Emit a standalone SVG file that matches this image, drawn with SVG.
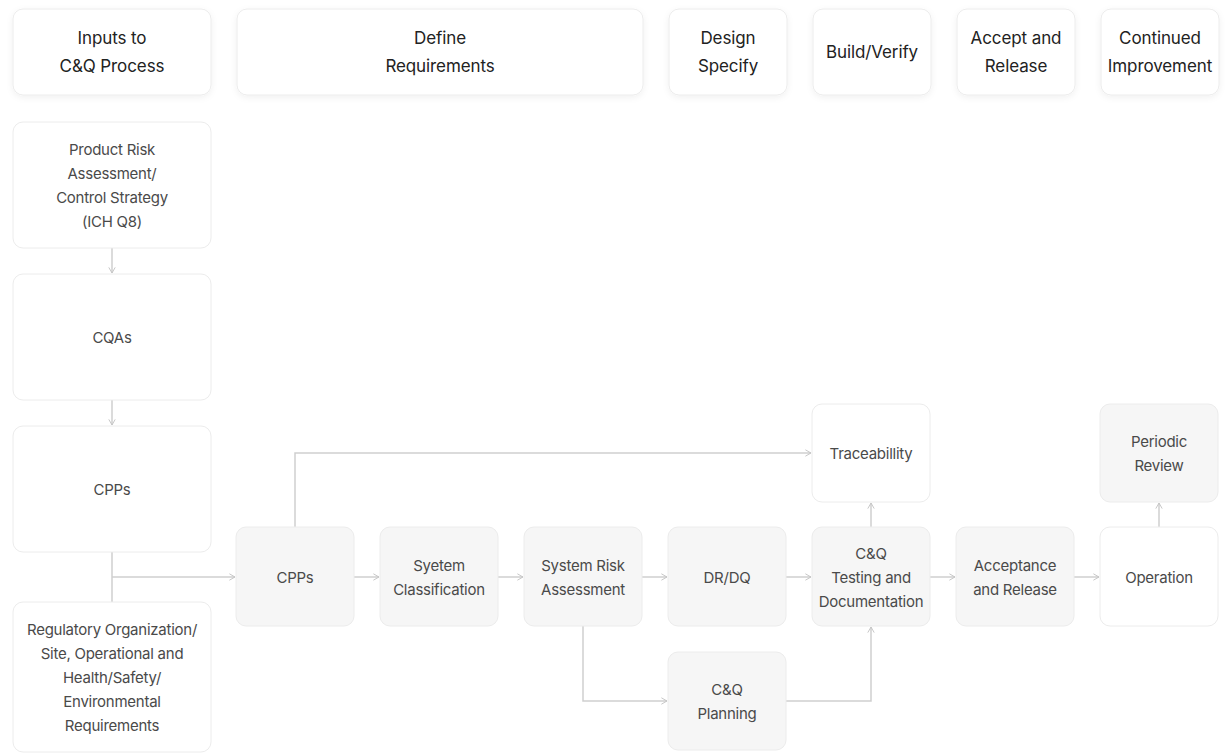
<svg xmlns="http://www.w3.org/2000/svg" width="1232" height="753" viewBox="0 0 1232 753">
<defs>
<filter id="sh" x="-20%" y="-20%" width="140%" height="150%">
<feDropShadow dx="0" dy="2" stdDeviation="3" flood-color="#000" flood-opacity="0.06"/>
</filter>
<marker id="ar" viewBox="0 0 10 10" refX="9" refY="5" markerWidth="8" markerHeight="8" markerUnits="userSpaceOnUse" orient="auto">
<path d="M2,1 L9,5 L2,9" fill="none" stroke="#c4c4c4" stroke-width="1.2"/>
</marker>
<style>
.hd rect{fill:#fff;stroke:#ececec;stroke-width:1;filter:url(#sh)}
.hd text{font-family:Inter,"Liberation Sans",sans-serif;font-size:17px;fill:#222;text-anchor:middle;dominant-baseline:central;letter-spacing:-0.1px}
.w rect{fill:#fff;stroke:#ececec;stroke-width:1}
.g rect{fill:#f6f6f6;stroke:#ececec;stroke-width:1}
.n text{font-family:Inter,"Liberation Sans",sans-serif;font-size:15px;fill:#4a4a4a;text-anchor:middle;dominant-baseline:central;letter-spacing:-0.25px}
#edges path{fill:none;stroke:#cfcfcf;stroke-width:1.5}
</style>
</defs>
<rect width="1232" height="753" fill="#fff"/>

<g id="h1" class="hd"><rect x="13" y="9" width="198" height="86" rx="10"/><text x="112" y="38">Inputs to</text><text x="112" y="66">C&amp;Q Process</text></g>
<g id="h2" class="hd"><rect x="237" y="9" width="406" height="86" rx="10"/><text x="440" y="38">Define</text><text x="440" y="66">Requirements</text></g>
<g id="h3" class="hd"><rect x="669" y="9" width="118" height="86" rx="10"/><text x="728" y="38">Design</text><text x="728" y="66">Specify</text></g>
<g id="h4" class="hd"><rect x="813" y="9" width="118" height="86" rx="10"/><text x="872" y="52">Build/Verify</text></g>
<g id="h5" class="hd"><rect x="957" y="9" width="118" height="86" rx="10"/><text x="1016" y="38">Accept and</text><text x="1016" y="66">Release</text></g>
<g id="h6" class="hd"><rect x="1101" y="9" width="118" height="86" rx="10"/><text x="1160" y="38">Continued</text><text x="1160" y="66">Improvement</text></g>

<g id="edges">
<path d="M112,248 V273" marker-end="url(#ar)"/>
<path d="M112,400 V425" marker-end="url(#ar)"/>
<path d="M112,552 V602"/>
<path d="M112,577 H235" marker-end="url(#ar)"/>
<path d="M354,577 H379" marker-end="url(#ar)"/>
<path d="M498,577 H523" marker-end="url(#ar)"/>
<path d="M642,577 H667" marker-end="url(#ar)"/>
<path d="M786,577 H811" marker-end="url(#ar)"/>
<path d="M930,577 H955" marker-end="url(#ar)"/>
<path d="M1074,577 H1099" marker-end="url(#ar)"/>
<path d="M295,527 V453 H811" marker-end="url(#ar)"/>
<path d="M583,626 V701 H667" marker-end="url(#ar)"/>
<path d="M786,701 H871 V627" marker-end="url(#ar)"/>
<path d="M871,527 V503" marker-end="url(#ar)"/>
<path d="M1159,527 V503" marker-end="url(#ar)"/>
</g>

<g id="n1" class="n w"><rect x="13" y="122" width="198" height="126" rx="10"/><text x="112" y="149">Product Risk</text><text x="112" y="173">Assessment/</text><text x="112" y="197">Control Strategy</text><text x="112" y="221">(ICH Q8)</text></g>
<g id="n2" class="n w"><rect x="13" y="274" width="198" height="126" rx="10"/><text x="112" y="337">CQAs</text></g>
<g id="n3" class="n w"><rect x="13" y="426" width="198" height="126" rx="10"/><text x="112" y="489">CPPs</text></g>
<g id="n4" class="n w"><rect x="13" y="602" width="198" height="150" rx="10"/><text x="112" y="629">Regulatory Organization/</text><text x="112" y="653">Site, Operational and</text><text x="112" y="677">Health/Safety/</text><text x="112" y="701">Environmental</text><text x="112" y="725">Requirements</text></g>

<g id="n5" class="n g"><rect x="236" y="527" width="118" height="99" rx="10"/><text x="295" y="577">CPPs</text></g>
<g id="n6" class="n g"><rect x="380" y="527" width="118" height="99" rx="10"/><text x="439" y="565">Syetem</text><text x="439" y="589">Classification</text></g>
<g id="n7" class="n g"><rect x="524" y="527" width="118" height="99" rx="10"/><text x="583" y="565">System Risk</text><text x="583" y="589">Assessment</text></g>
<g id="n8" class="n g"><rect x="668" y="527" width="118" height="99" rx="10"/><text x="727" y="577">DR/DQ</text></g>
<g id="n9" class="n g"><rect x="812" y="527" width="118" height="99" rx="10"/><text x="871" y="553">C&amp;Q</text><text x="871" y="577">Testing and</text><text x="871" y="601">Documentation</text></g>
<g id="n10" class="n g"><rect x="956" y="527" width="118" height="99" rx="10"/><text x="1015" y="565">Acceptance</text><text x="1015" y="589">and Release</text></g>
<g id="n11" class="n w"><rect x="1100" y="527" width="118" height="99" rx="10"/><text x="1159" y="577">Operation</text></g>
<g id="n12" class="n w"><rect x="812" y="404" width="118" height="98" rx="10"/><text x="871" y="453">Traceabillity</text></g>
<g id="n13" class="n g"><rect x="1100" y="404" width="118" height="98" rx="10"/><text x="1159" y="441">Periodic</text><text x="1159" y="465">Review</text></g>
<g id="n14" class="n g"><rect x="668" y="652" width="118" height="98" rx="10"/><text x="727" y="689">C&amp;Q</text><text x="727" y="713">Planning</text></g>
</svg>
